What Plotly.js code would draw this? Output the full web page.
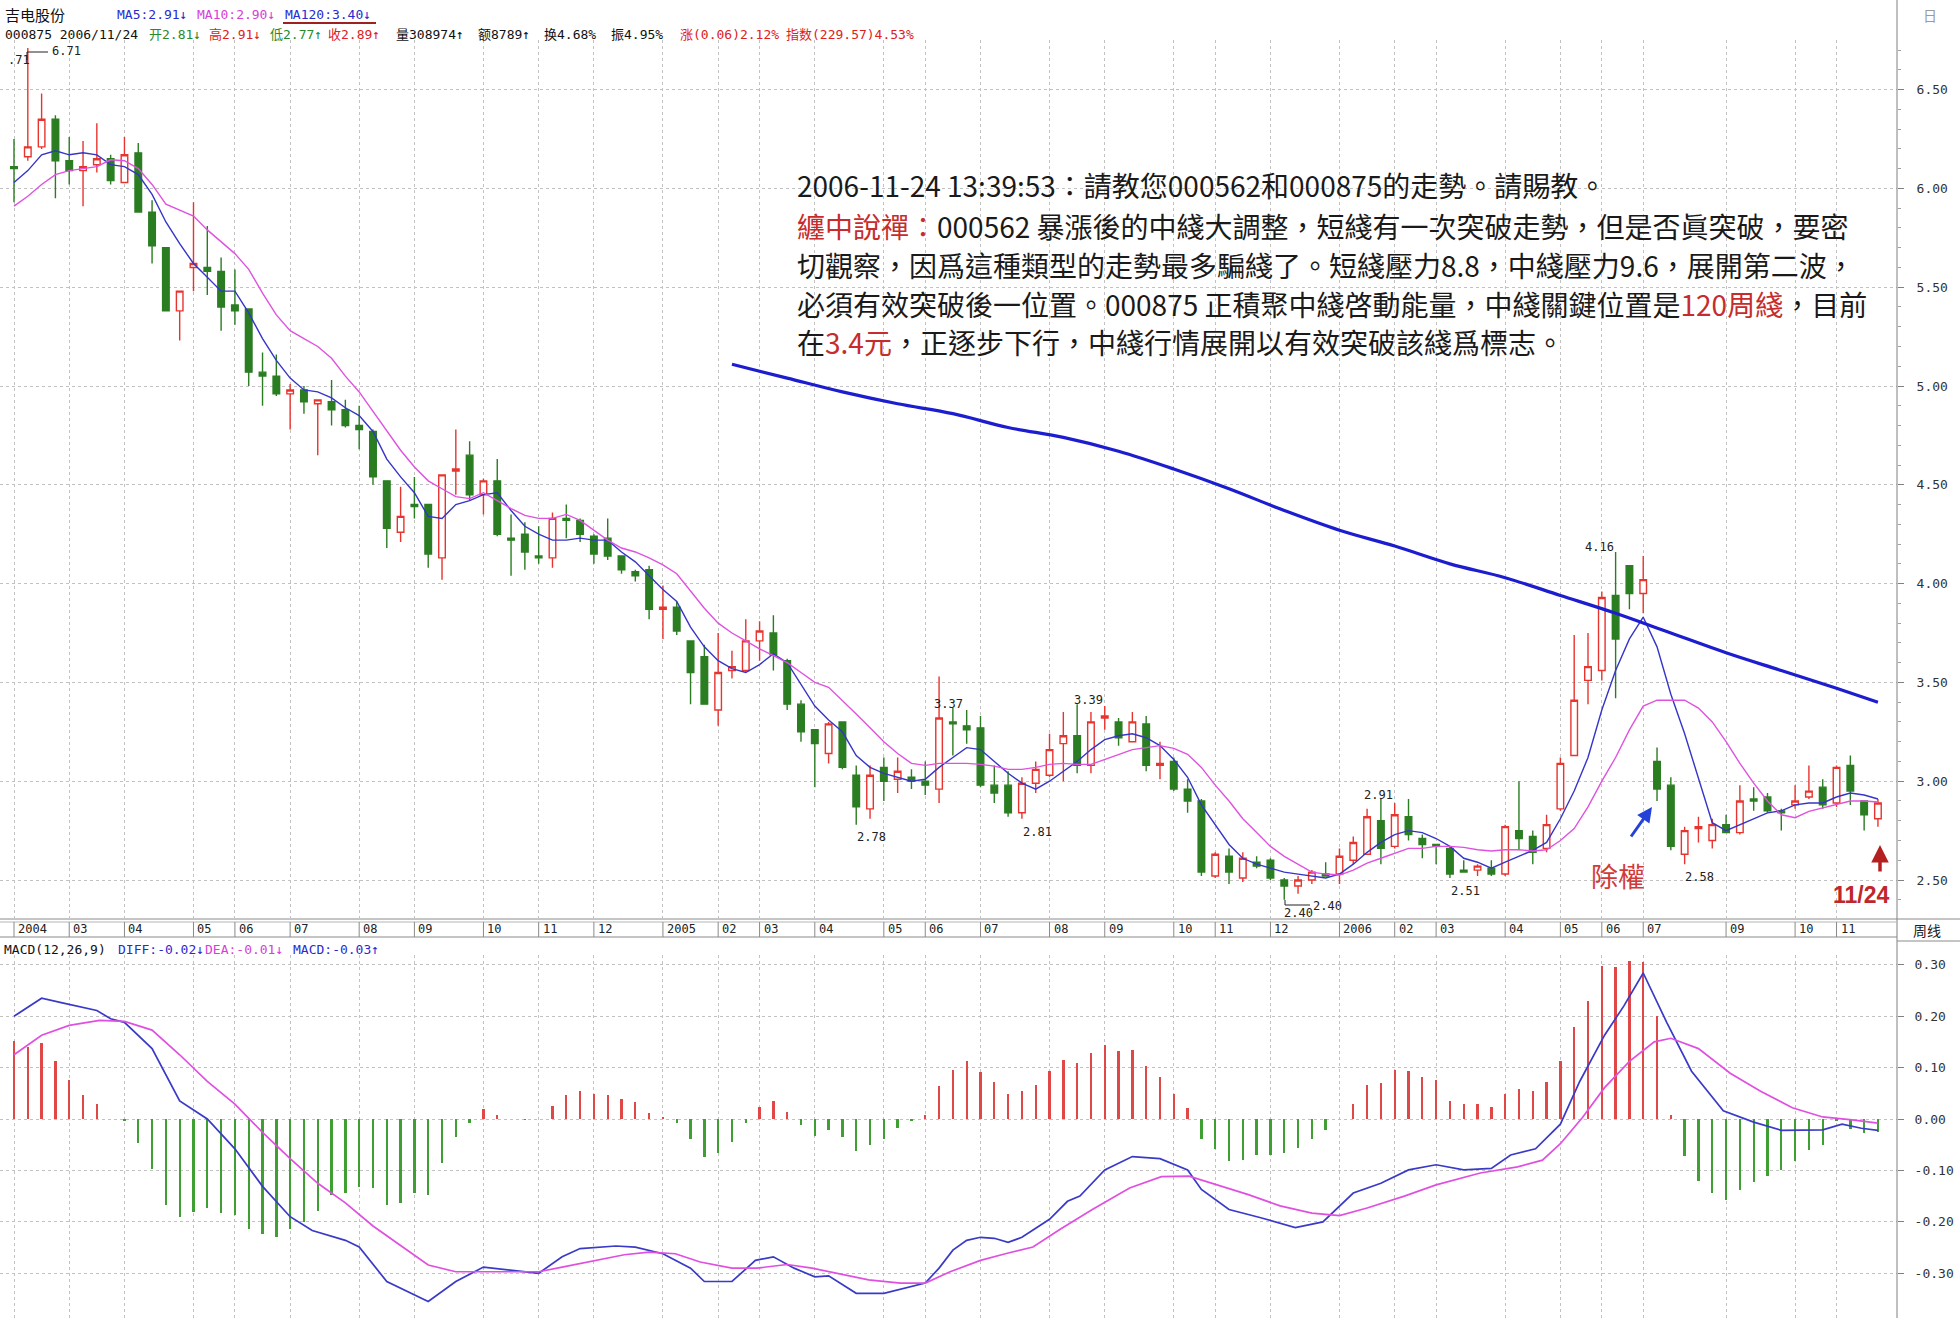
<!DOCTYPE html>
<html>
<head>
<meta charset="utf-8">
<script src="https://cdn.plot.ly/plotly-3.0.1.min.js"></script>
<style>html,body{margin:0;padding:0;background:#fff;}#chart{width:1960px;height:1318px;}</style>
</head>
<body>
<div id="chart"></div>
<script>
// ---------- data (weekly bars, 000875 吉电股份) ----------
const openP = [6.11,6.16,6.21,6.35,6.14,6.09,6.12,6.15,6.03,6.18, 5.88,5.70,5.38,5.60,5.60,5.58,5.41,5.39,5.07,5.05,
 4.96,4.98,4.91,4.92,4.88,4.80,4.77,4.52,4.26,4.40, 4.40,4.13,4.57,4.65,4.45,4.52,4.23,4.25,4.14,4.13,
 4.33,4.32,4.24,4.23,4.14,4.06,4.07,3.87,3.88,3.71, 3.63,3.36,3.56,3.56,3.71,3.75,3.61,3.39,3.26,3.14,
 3.30,3.03,2.86,3.07,3.01,3.02,3.00,2.96,3.30,3.28, 3.27,2.98,2.98,2.84,2.99,3.03,3.19,3.23,3.08,3.32,
 3.30,3.20,3.29,3.08,3.10,2.96,2.90,2.52,2.62,2.51, 2.59,2.60,2.50,2.47,2.50,2.53,2.53,2.60,2.63,2.80,
 2.67,2.82,2.71,2.68,2.66,2.55,2.55,2.56,2.53,2.75, 2.72,2.66,2.86,3.13,3.51,3.56,3.94,4.09,3.95,3.10,
 2.98,2.63,2.76,2.70,2.78,2.74,2.91,2.92,2.85,2.88, 2.92,2.97,2.89,3.08,2.90,2.81];
const highP = [6.25,6.71,6.48,6.37,6.26,6.24,6.33,6.17,6.26,6.23, 5.94,5.70,5.48,5.93,5.81,5.65,5.59,5.39,5.17,5.16,
 5.01,5.00,4.93,5.03,4.93,4.90,4.78,4.52,4.49,4.54, 4.40,4.55,4.78,4.72,4.53,4.63,4.35,4.31,4.29,4.36,
 4.40,4.33,4.25,4.33,4.14,4.07,4.09,3.99,3.91,3.71, 3.69,3.75,3.66,3.82,3.81,3.84,3.62,3.41,3.26,3.30,
 3.30,3.08,3.08,3.12,3.12,3.06,3.10,3.53,3.37,3.36, 3.33,3.08,3.05,3.02,3.10,3.24,3.35,3.39,3.35,3.38,
 3.32,3.35,3.33,3.20,3.12,3.01,2.91,2.64,2.66,2.64, 2.62,2.61,2.51,2.52,2.55,2.59,2.66,2.72,2.86,2.91,
 2.89,2.91,2.73,2.68,2.67,2.60,2.58,2.60,2.78,3.00, 2.75,2.83,3.12,3.74,3.75,3.96,4.16,4.09,4.14,3.17,
 3.02,2.77,2.82,2.81,2.83,2.98,2.97,2.94,2.86,2.98, 3.08,3.01,3.08,3.13,2.90,2.91];
const lowP = [5.93,6.14,6.20,5.95,6.02,5.91,6.08,6.02,6.03,5.88, 5.62,5.38,5.23,5.48,5.46,5.28,5.31,5.00,4.90,4.95,
 4.78,4.86,4.65,4.80,4.79,4.68,4.50,4.18,4.21,4.33, 4.08,4.02,4.45,4.42,4.35,4.24,4.04,4.07,4.10,4.08,
 4.23,4.21,4.10,4.12,4.05,4.01,3.82,3.72,3.74,3.39, 3.39,3.28,3.52,3.55,3.61,3.56,3.36,3.20,2.97,3.09,
 3.06,2.78,2.81,2.90,2.94,2.96,2.93,2.89,3.13,3.19, 2.97,2.89,2.82,2.81,2.94,3.02,3.00,3.04,3.04,3.26,
 3.18,3.20,3.05,3.01,2.95,2.84,2.52,2.51,2.48,2.49, 2.56,2.50,2.40,2.43,2.48,2.52,2.48,2.58,2.63,2.58,
 2.66,2.70,2.61,2.58,2.51,2.54,2.52,2.52,2.52,2.65, 2.58,2.64,2.85,3.13,3.39,3.51,3.42,3.87,3.85,2.90,
 2.65,2.58,2.69,2.66,2.74,2.73,2.85,2.84,2.75,2.86, 2.91,2.86,2.87,2.88,2.75,2.77];
const closeP = [6.10,6.21,6.35,6.14,6.09,6.11,6.15,6.04,6.17,5.88, 5.71,5.38,5.48,5.62,5.58,5.40,5.38,5.07,5.05,4.96,
 4.98,4.92,4.93,4.88,4.80,4.78,4.54,4.28,4.34,4.39, 4.15,4.55,4.58,4.45,4.52,4.25,4.22,4.16,4.13,4.33,
 4.32,4.25,4.15,4.14,4.07,4.04,3.87,3.88,3.76,3.55, 3.39,3.55,3.58,3.71,3.76,3.64,3.39,3.25,3.19,3.29,
 3.07,2.87,3.03,3.00,3.05,3.00,2.98,3.32,3.29,3.26, 2.98,2.94,2.84,2.99,3.06,3.16,3.23,3.08,3.30,3.33,
 3.22,3.30,3.08,3.09,2.96,2.90,2.54,2.63,2.54,2.61, 2.57,2.51,2.47,2.50,2.54,2.52,2.62,2.69,2.82,2.66,
 2.83,2.73,2.68,2.67,2.53,2.54,2.57,2.53,2.77,2.71, 2.64,2.78,3.09,3.41,3.58,3.93,3.72,3.95,4.02,2.96,
 2.67,2.75,2.77,2.78,2.74,2.90,2.90,2.85,2.84,2.90, 2.95,2.88,3.07,2.95,2.83,2.89];
const ma5 = [6.03,6.09,6.17,6.19,6.17,6.18,6.17,6.12,6.11,6.07, 5.97,5.83,5.72,5.62,5.55,5.48,5.48,5.37,5.24,5.13,
 5.04,4.98,4.97,4.94,4.89,4.85,4.77,4.63,4.54,4.46, 4.34,4.33,4.40,4.42,4.45,4.46,4.37,4.29,4.25,4.22,
 4.22,4.23,4.22,4.22,4.16,4.11,4.04,3.97,3.91,3.78, 3.68,3.61,3.57,3.55,3.59,3.645,3.60,3.49,3.38,3.31,
 3.25,3.13,3.07,3.04,3.02,3.00,3.01,3.07,3.12,3.17, 3.16,3.10,3.04,2.99,2.96,3.00,3.05,3.10,3.16,3.21,
 3.23,3.24,3.22,3.18,3.11,3.02,2.88,2.78,2.68,2.61, 2.58,2.56,2.54,2.53,2.52,2.51,2.53,2.58,2.64,2.69,
 2.73,2.75,2.74,2.71,2.67,2.61,2.59,2.56,2.59,2.62, 2.65,2.69,2.81,2.95,3.12,3.36,3.56,3.72,3.83,3.68,
 3.44,3.24,3.01,2.79,2.75,2.78,2.81,2.84,2.85,2.88, 2.89,2.89,2.92,2.94,2.93,2.91];
const ma10 = [5.91,5.96,6.02,6.07,6.09,6.10,6.11,6.145,6.14,6.10, 6.02,5.92,5.89,5.86,5.79,5.73,5.67,5.59,5.47,5.36,
 5.28,5.24,5.20,5.14,5.05,4.97,4.87,4.77,4.675,4.59, 4.52,4.48,4.44,4.43,4.46,4.42,4.38,4.345,4.33,4.33,
 4.35,4.32,4.27,4.22,4.18,4.16,4.13,4.095,4.05,3.96, 3.875,3.80,3.75,3.71,3.67,3.635,3.60,3.55,3.50,3.475,
 3.41,3.34,3.27,3.20,3.14,3.09,3.08,3.09,3.09,3.09, 3.085,3.076,3.06,3.06,3.07,3.085,3.09,3.085,3.085,3.11,
 3.136,3.16,3.17,3.18,3.166,3.136,3.07,2.98,2.90,2.81, 2.74,2.67,2.62,2.58,2.54,2.53,2.525,2.55,2.585,2.61,
 2.636,2.66,2.66,2.67,2.67,2.665,2.653,2.647,2.653,2.653, 2.647,2.653,2.70,2.76,2.87,3.00,3.12,3.26,3.38,3.41,
 3.41,3.41,3.37,3.30,3.20,3.09,2.99,2.90,2.83,2.815, 2.847,2.864,2.88,2.90,2.90,2.895];
const ma120Week = [52,56,60,64,68,72,76,80,84,88,92,96,100,104,108,112,116,120,124,128,132,135];
const ma120 = [5.11,5.04,4.97,4.91,4.86,4.79,4.74,4.67,4.58,4.48,4.37,4.27,4.19,4.10,4.03,3.94,3.85,3.75,3.65,3.56,3.47,3.40];
const macdHist = [0.151,0.14,0.147,0.113,0.075,0.046,0.03,0.0,-0.003,-0.047, -0.097,-0.167,-0.19,-0.18,-0.174,-0.183,-0.187,-0.214,-0.224,-0.23,
 -0.214,-0.20,-0.179,-0.147,-0.144,-0.132,-0.134,-0.168,-0.163,-0.144, -0.147,-0.085,-0.034,-0.008,0.019,0.008,0.0,-0.002,0.0,0.026,
 0.046,0.054,0.048,0.046,0.038,0.033,0.011,0.003,-0.008,-0.038, -0.073,-0.066,-0.045,-0.008,0.024,0.035,0.014,-0.012,-0.033,-0.022,
 -0.035,-0.063,-0.051,-0.038,-0.017,-0.003,0.008,0.064,0.096,0.113, 0.091,0.072,0.049,0.054,0.067,0.094,0.114,0.109,0.129,0.144,
 0.133,0.135,0.104,0.081,0.048,0.021,-0.038,-0.059,-0.082,-0.079, -0.07,-0.07,-0.067,-0.056,-0.038,-0.022,0.0,0.03,0.067,0.07,
 0.095,0.093,0.081,0.075,0.035,0.029,0.029,0.024,0.048,0.059, 0.054,0.072,0.113,0.179,0.23,0.298,0.296,0.307,0.305,0.20,
 0.008,-0.072,-0.121,-0.144,-0.157,-0.139,-0.123,-0.11,-0.099,-0.081, -0.061,-0.051,-0.004,-0.019,-0.027,-0.026];
const diffWeek = [0,2,3.5,6,7,8,10,12,14,16,18,20,21.6,24,25,27,30,32,34,36,38,39.7,41,43.6,45,47,49,50,52,53.7,55,56.5,58,59,61,63,66,67,68,69,
 70,71,72,73,75,76.3,77.2,79,81,83,85,86,88,90.3,92.8,94.8,97,99,101,103,105,107,108.4,110.2,112,113.4,115.2,116.6,118,119.7,121.5,123.8,126,128,129.7,131,132.4,133.8,135];
const diffVal = [0.20,0.235,0.226,0.211,0.195,0.188,0.137,0.035,0.0,-0.058,-0.131,-0.19,-0.217,-0.236,-0.249,-0.316,-0.355,-0.316,-0.288,-0.294,-0.30,-0.268,-0.252,-0.247,-0.249,-0.262,-0.29,-0.316,-0.316,-0.275,-0.268,-0.29,-0.307,-0.305,-0.339,-0.339,-0.319,-0.29,-0.255,-0.236,
 -0.23,-0.232,-0.24,-0.23,-0.195,-0.16,-0.15,-0.099,-0.073,-0.077,-0.099,-0.137,-0.176,-0.192,-0.211,-0.20,-0.144,-0.125,-0.099,-0.089,-0.099,-0.096,-0.07,-0.058,-0.01,0.073,0.163,0.22,0.284,0.188,0.093,0.016,-0.006,-0.022,-0.022,-0.021,-0.01,-0.018,-0.022];
const deaWeek = [0,2,4,6.2,8,10,12,14,16,18,20,22,24,26,28,30,32,34,36,38,39.7,42,44.2,46,47.9,49.7,52,53.8,56,57.8,59.6,61.9,64.2,66,67.8,
 70,71.8,73.8,75.8,78.1,80.8,83.1,85.1,87.2,89.4,91.7,94,96,98,100.7,103,106.2,108.9,110.7,112,113.6,115.2,117,118.8,120,122,124.3,126.5,128.8,131,133.3,135];
const deaVal = [0.125,0.163,0.182,0.192,0.19,0.173,0.125,0.073,0.029,-0.026,-0.077,-0.125,-0.163,-0.208,-0.246,-0.284,-0.297,-0.297,-0.297,-0.297,-0.288,-0.275,-0.264,-0.259,-0.262,-0.278,-0.29,-0.29,-0.283,-0.29,-0.30,-0.313,-0.319,-0.319,-0.297,
 -0.275,-0.262,-0.249,-0.214,-0.176,-0.134,-0.112,-0.111,-0.128,-0.147,-0.169,-0.183,-0.188,-0.173,-0.15,-0.128,-0.105,-0.093,-0.08,-0.048,0.003,0.061,0.112,0.15,0.157,0.137,0.089,0.054,0.022,0.004,-0.002,-0.008];
const monthWeek = [0,4,8,13,16,20,25,29,34,38,42,47,51,54,58,63,66,70,75,79,84,87,91,96,100,103,108,112,115,118,124,129,132];
const monthLabel = ['2004','03','04','05','06','07','08','09','10','11','12','2005','02','03','04','05','06','07','08','09','10','11','12','2006','02','03','04','05','06','07','09','10','11'];
const macdTicks = [0.3,0.2,0.1,0,-0.1,-0.2,-0.3];

// ---------- geometry ----------
const W = 1960, H = 1318;
const px = x => x / W;
const py = y => 1 - y / H;
const plotRight = 1897;
const step = 13.807;
const xRange = [-14 / step, (plotRight - 14) / step];
const weeks = openP.map((_, i) => i);
const GRID = '#c2c2c2';
const MONO = 'DejaVu Sans Mono, Noto Sans CJK SC, monospace';
const CJK = 'Noto Sans CJK SC, sans-serif';
const TC = 'Noto Sans CJK TC, Noto Sans CJK SC, sans-serif';

const traces = [
  {type:'candlestick', x:weeks, open:openP, high:highP, low:lowP, close:closeP, xaxis:'x', yaxis:'y',
   increasing:{line:{color:'#e8342f', width:1.4}, fillcolor:'#ffffff'},
   decreasing:{line:{color:'#2b7d22', width:1.4}, fillcolor:'#2b7d22'},
   whiskerwidth:0, hoverinfo:'skip'},
  {type:'scatter', mode:'lines', x:weeks, y:ma5, line:{color:'#3535c8', width:1.4}, xaxis:'x', yaxis:'y', hoverinfo:'skip'},
  {type:'scatter', mode:'lines', x:weeks, y:ma10, line:{color:'#df52df', width:1.4}, xaxis:'x', yaxis:'y', hoverinfo:'skip'},
  {type:'scatter', mode:'lines', x:ma120Week, y:ma120, line:{color:'#1d1dd0', width:3.2, shape:'spline'}, xaxis:'x', yaxis:'y', hoverinfo:'skip'},
  {type:'bar', x:weeks, y:macdHist, width:0.17, xaxis:'x2', yaxis:'y2', hoverinfo:'skip',
   marker:{color:macdHist.map(v => v >= 0 ? '#e04848' : '#3f9f33'), line:{width:0}}},
  {type:'scatter', mode:'lines', x:diffWeek, y:diffVal, line:{color:'#3a3ac8', width:1.7}, xaxis:'x2', yaxis:'y2', hoverinfo:'skip'},
  {type:'scatter', mode:'lines', x:deaWeek, y:deaVal, line:{color:'#e050e0', width:1.7}, xaxis:'x2', yaxis:'y2', hoverinfo:'skip'}
];

const shapes = [
  {type:'line', xref:'paper', yref:'paper', x0:px(plotRight), x1:px(plotRight), y0:0, y1:1, line:{color:'#808080', width:1}},
  {type:'line', xref:'paper', yref:'paper', x0:0, x1:1, y0:py(919), y1:py(919), line:{color:'#8a8a8a', width:1}},
  {type:'line', xref:'paper', yref:'paper', x0:0, x1:px(plotRight), y0:py(922), y1:py(922), line:{color:'#b5b5b5', width:1}},
  {type:'line', xref:'paper', yref:'paper', x0:0, x1:px(plotRight), y0:py(937), y1:py(937), line:{color:'#8a8a8a', width:1}},
  {type:'line', xref:'paper', yref:'paper', x0:px(plotRight), x1:1, y0:py(941), y1:py(941), line:{color:'#8a8a8a', width:1}},
  {type:'line', xref:'paper', yref:'paper', x0:px(283), x1:px(376), y0:py(23), y1:py(23), line:{color:'#a02020', width:2}},
  {type:'path', xref:'paper', yref:'paper', path:`M ${px(27)} ${py(60)} L ${px(27)} ${py(52)} L ${px(48)} ${py(52)}`, line:{color:'#222', width:1}},
  {type:'path', xref:'paper', yref:'paper', path:`M ${px(1285)} ${py(900)} L ${px(1285)} ${py(905)} L ${px(1310)} ${py(905)}`, line:{color:'#222', width:1}}
];
monthWeek.forEach(w => shapes.push({type:'line', xref:'x', yref:'paper', x0:w, x1:w, y0:py(922), y1:py(937), line:{color:'#8a8a8a', width:1}}));

const ann = [];
const txt = (x, y, text, size, family, color, anchor) => ann.push({xref:'paper', yref:'paper', x:px(x), y:py(y), text:text,
  showarrow:false, xanchor:anchor || 'left', yanchor:'middle', font:{size:size, family:family, color:color || '#222'}});

// header
txt(3, 15, '吉电股份', 15, CJK, '#111');
txt(115, 15, 'MA5:2.91↓', 13, MONO, '#2a2ad0');
txt(195, 15, 'MA10:2.90↓', 13, MONO, '#d63ed6');
txt(283, 15, 'MA120:3.40↓', 13, MONO, '#2a2ad0');
txt(3, 35, '000875 2006/11/24', 13, MONO, '#111');
txt(147, 35, '开2.81↓', 13, MONO, '#2a8a2a');
txt(207, 35, '高2.91↓', 13, MONO, '#e02020');
txt(268, 35, '低2.77↑', 13, MONO, '#2a8a2a');
txt(326, 35, '收2.89↑', 13, MONO, '#e02020');
txt(394, 35, '量308974↑', 13, MONO, '#111');
txt(476, 35, '额8789↑', 13, MONO, '#111');
txt(542, 35, '换4.68%', 13, MONO, '#111');
txt(609, 35, '振4.95%', 13, MONO, '#111');
txt(678, 35, '涨(0.06)2.12%', 13, MONO, '#e02020');
txt(784, 35, '指数(229.57)4.53%', 13, MONO, '#e02020');
txt(1921, 15, '日', 14, CJK, '#9a9a9a');

// MACD title
txt(2, 949, 'MACD(12,26,9)', 13, MONO, '#111');
txt(116, 949, 'DIFF:-0.02↓', 13, MONO, '#2a2ad0');
txt(203, 949, 'DEA:-0.01↓', 13, MONO, '#d63ed6');
txt(291, 949, 'MACD:-0.03↑', 13, MONO, '#2a2ad0');
txt(1911, 930, '周线', 14, CJK, '#222');

// month labels in the band
monthWeek.forEach((w, k) => ann.push({xref:'x', yref:'paper', x:w, y:py(929), text:monthLabel[k], showarrow:false,
  xanchor:'left', xshift:2, yanchor:'middle', font:{size:12, family:MONO, color:'#222'}}));

// price marks
txt(6, 60, '.71', 12, MONO, '#222');
txt(50, 51, '6.71', 12, MONO, '#222');
txt(948, 704, '3.37', 12, MONO, '#222', 'center');
txt(1088, 700, '3.39', 12, MONO, '#222', 'center');
txt(871, 837, '2.78', 12, MONO, '#222', 'center');
txt(1037, 832, '2.81', 12, MONO, '#222', 'center');
txt(1378, 795, '2.91', 12, MONO, '#222', 'center');
txt(1298, 913, '2.40', 12, MONO, '#222', 'center');
txt(1327, 906, '2.40', 12, MONO, '#222', 'center');
txt(1599, 547, '4.16', 12, MONO, '#222', 'center');
txt(1465, 891, '2.51', 12, MONO, '#222', 'center');
txt(1699, 877, '2.58', 12, MONO, '#222', 'center');

// commentary
const RED = '#c72c2c';
txt(795, 185, '2006-11-24 13:39:53：請教您000562和000875的走勢。請賜教。', 28, TC, '#1a1a1a');
txt(795, 226, `<span style="color:${RED}">纏中說禪：</span>000562 暴漲後的中綫大調整，短綫有一次突破走勢，但是否眞突破，要密`, 28, TC, '#1a1a1a');
txt(795, 265, '切觀察，因爲這種類型的走勢最多騙綫了。短綫壓力8.8，中綫壓力9.6，展開第二波，', 28, TC, '#1a1a1a');
txt(795, 304, `必須有效突破後一位置。000875 正積聚中綫啓動能量，中綫關鍵位置是<span style="color:${RED}">120周綫</span>，目前`, 28, TC, '#1a1a1a');
txt(795, 342, `在<span style="color:${RED}">3.4元</span>，正逐步下行，中綫行情展開以有效突破該綫爲標志。`, 28, TC, '#1a1a1a');
txt(1618, 875, '除權', 27, TC, '#d23a3a', 'center');
txt(1861, 895, '<b>11/24</b>', 23, 'Liberation Sans, Arial, sans-serif', '#c0262a', 'center');

// arrows
ann.push({xref:'paper', yref:'paper', x:px(1652), y:py(807), ax:-22, ay:31, text:'', showarrow:true,
  arrowhead:2, arrowsize:1, arrowwidth:3, arrowcolor:'#2442d8', standoff:0});
ann.push({xref:'paper', yref:'paper', x:px(1880), y:py(845), ax:0, ay:28, text:'', showarrow:true,
  arrowhead:2, arrowsize:1, arrowwidth:3.5, arrowcolor:'#b42020', standoff:0});

const xBase = {domain:[0, px(plotRight)], range:xRange, tickmode:'array', tickvals:monthWeek, showticklabels:false,
  ticks:'', showgrid:true, gridcolor:GRID, griddash:'dot', gridwidth:1, zeroline:false, showline:false, fixedrange:true};

const layout = {
  width:W, height:H, margin:{l:0, r:0, t:0, b:0}, paper_bgcolor:'#ffffff', plot_bgcolor:'#ffffff',
  showlegend:false, boxgap:0.32, bargap:0,
  xaxis:Object.assign({}, xBase, {anchor:'y', rangeslider:{visible:false}}),
  xaxis2:Object.assign({}, xBase, {anchor:'y2'}),
  yaxis:{domain:[py(918), py(40)], range:[2.3077, 6.751], side:'right', anchor:'x', tickmode:'linear', tick0:2.5, dtick:0.5,
    tickformat:'.2f', ticks:'outside', ticklen:6, tickcolor:'#808080', showgrid:true, gridcolor:GRID, griddash:'dot',
    zeroline:false, showline:false, ticklabelstandoff:10, tickfont:{family:MONO, size:13, color:'#333'},
    minor:{dtick:0.1, ticks:'outside', ticklen:3, tickcolor:'#a0a0a0', showgrid:false}, fixedrange:true},
  yaxis2:{domain:[0, py(955)], range:[-0.387, 0.319], side:'right', anchor:'x2', tickmode:'array', tickvals:macdTicks,
    ticktext:macdTicks.map(v => v.toFixed(2)), ticks:'outside', ticklen:6, tickcolor:'#808080', showgrid:true,
    gridcolor:GRID, griddash:'dot', zeroline:false, showline:false, ticklabelstandoff:8,
    tickfont:{family:MONO, size:13, color:'#333'}, fixedrange:true},
  shapes:shapes, annotations:ann
};

Plotly.newPlot('chart', traces, layout, {staticPlot:true, displayModeBar:false});
</script>
</body>
</html>
